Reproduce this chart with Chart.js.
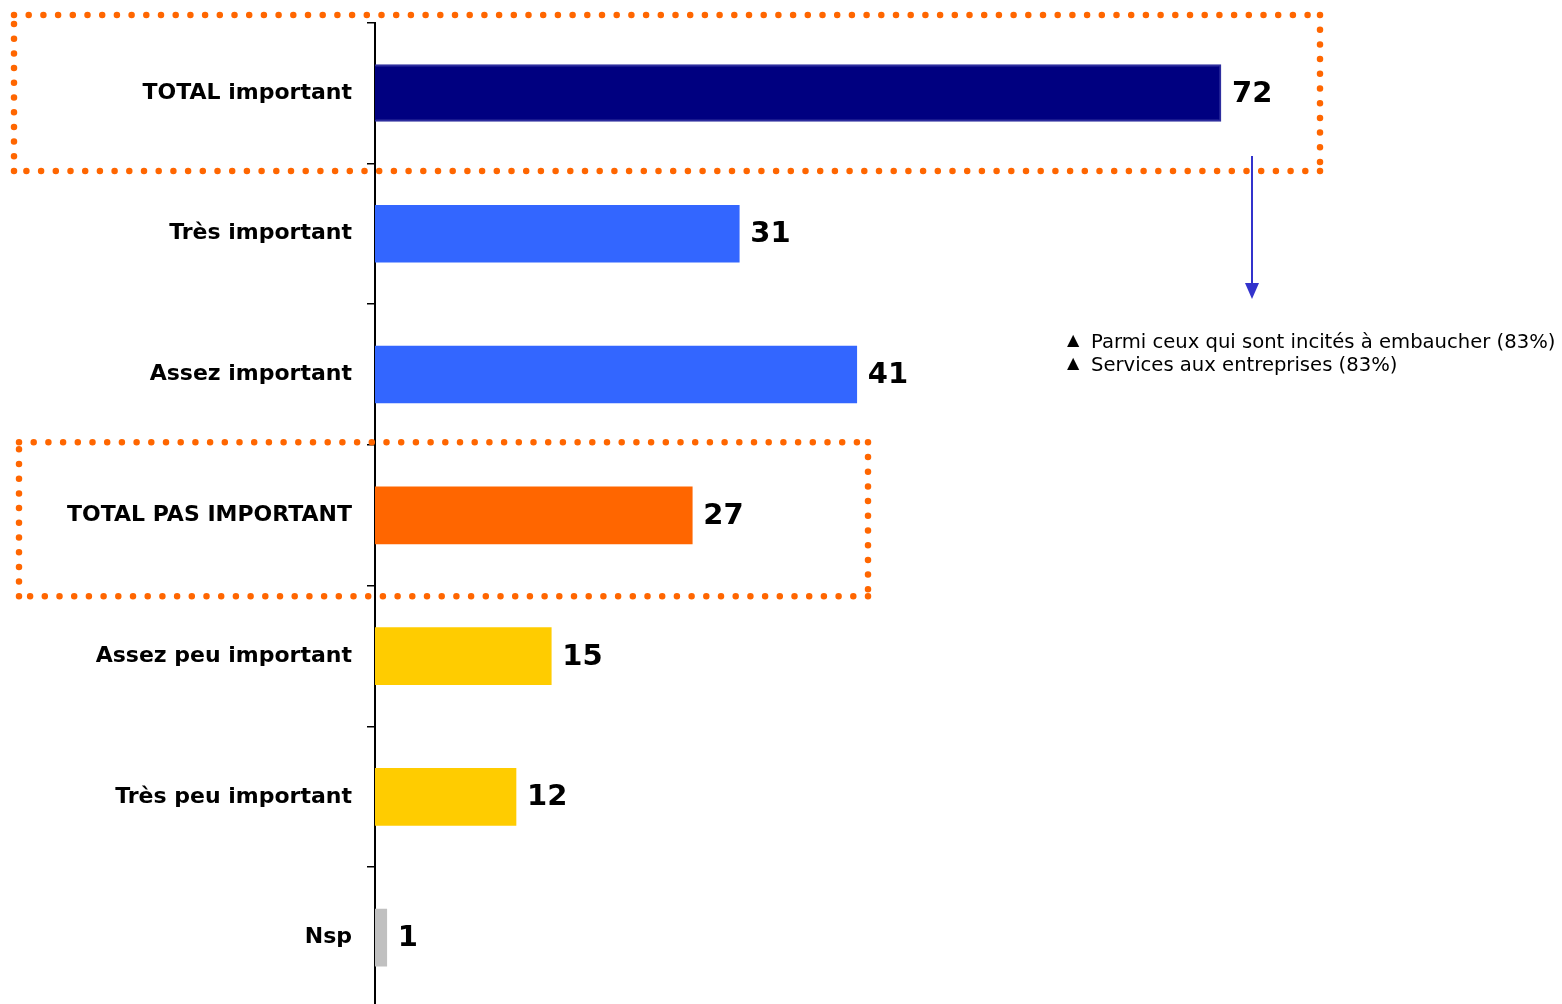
<!DOCTYPE html>
<html>
<head>
<meta charset="utf-8">
<script src="https://cdn.jsdelivr.net/npm/chart.js@4/dist/chart.umd.min.js"></script>
<style>
    html, body { margin: 0; padding: 0; background: #fff; overflow: hidden; }
    #wrap { position: relative; width: 1562px; height: 1008px; }
</style>
</head>
<body>
<div id="wrap"><canvas id="chart"></canvas></div>
<script>
// Data
const categories = [
    'TOTAL important',
    'Très important',
    'Assez important',
    'TOTAL PAS IMPORTANT',
    'Assez peu important',
    'Très peu important',
    'Nsp'
];
const values = [72, 31, 41, 27, 15, 12, 1];
const barColors = ['#000080', '#3366FF', '#3366FF', '#FF6600', '#FFCC00', '#FFCC00', '#C0C0C0'];
const noteLines = [
    'Parmi ceux qui sont incités à embaucher (83%)',
    'Services aux entreprises (83%)'
];

const FONT = '"DejaVu Sans", Verdana, sans-serif';
const ORANGE_DOT = '#FF6600';

// Value labels at the end of each bar
const valueLabels = {
    id: 'valueLabels',
    afterDatasetsDraw(chart) {
        const { ctx } = chart;
        const meta = chart.getDatasetMeta(0);
        ctx.save();
        ctx.font = 'bold 29px ' + FONT;
        ctx.fillStyle = '#000';
        ctx.textAlign = 'left';
        ctx.textBaseline = 'middle';
        meta.data.forEach((bar, i) => {
            ctx.fillText(String(values[i]), bar.x + 11, bar.y + 1);
        });
        ctx.restore();
    }
};

// Dotted frames, arrow and note
const annotations = {
    id: 'annotations',
    afterDraw(chart) {
        const { ctx } = chart;
        const y = chart.scales.y;
        const x = chart.scales.x;

        const dottedBox = (left, top, right, bottom) => {
            ctx.save();
            ctx.strokeStyle = ORANGE_DOT;
            ctx.lineWidth = 6.5;
            ctx.lineCap = 'round';
            ctx.setLineDash([0, 14.7]);
            const sides = [
                [left, top, right, top],
                [right, top, right, bottom],
                [right, bottom, left, bottom],
                [left, bottom, left, top]
            ];
            sides.forEach(s => {
                ctx.beginPath();
                ctx.moveTo(s[0], s[1]);
                ctx.lineTo(s[2], s[3]);
                ctx.stroke();
            });
            ctx.restore();
        };

        const c0 = y.getPixelForValue(0);
        const c3 = y.getPixelForValue(3);
        dottedBox(14, c0 - 78, 1320, c0 + 78);
        dottedBox(19, c3 - 73, 868, c3 + 81);

        // arrow below the first value label
        const ax = x.getPixelForValue(values[0]) + 31;
        ctx.save();
        ctx.strokeStyle = '#3333CC';
        ctx.fillStyle = '#3333CC';
        ctx.lineWidth = 2;
        ctx.beginPath();
        ctx.moveTo(ax, c0 + 63);
        ctx.lineTo(ax, c0 + 192);
        ctx.stroke();
        ctx.beginPath();
        ctx.moveTo(ax - 7, c0 + 190);
        ctx.lineTo(ax + 7, c0 + 190);
        ctx.lineTo(ax, c0 + 206);
        ctx.closePath();
        ctx.fill();
        ctx.restore();

        // note text
        ctx.save();
        ctx.fillStyle = '#000';
        ctx.textBaseline = 'middle';
        noteLines.forEach((line, i) => {
            const ty = 343 + i * 23;
            ctx.font = '16px ' + FONT;
            ctx.fillText('▲', 1067, ty - 2);
            ctx.font = '19.6px ' + FONT;
            ctx.fillText(line, 1091, ty);
        });
        ctx.restore();
    }
};

new Chart(document.getElementById('chart'), {
    type: 'bar',
    data: {
        labels: categories,
        datasets: [{
            data: values,
            backgroundColor: barColors,
            borderColor: ['#2E2E9E', 'transparent', 'transparent', 'transparent', 'transparent', 'transparent', 'transparent'],
            borderWidth: [2, 0, 0, 0, 0, 0, 0],
            borderSkipped: 'left',
            barThickness: 57
        }]
    },
    options: {
        indexAxis: 'y',
        responsive: true,
        maintainAspectRatio: false,
        animation: false,
        layout: {
            padding: { top: 22.6, right: 12, bottom: 0, left: 0 }
        },
        plugins: {
            legend: { display: false },
            tooltip: { enabled: false }
        },
        scales: {
            x: {
                display: false,
                min: 0,
                max: 100
            },
            y: {
                afterFit(scale) {
                    scale.width = 375;
                    scale.paddingTop = 0;
                    scale.paddingBottom = 0;
                },
                border: { color: '#000', width: 2 },
                grid: {
                    offset: true,
                    drawOnChartArea: false,
                    drawTicks: true,
                    tickLength: 8,
                    color: '#000',
                    lineWidth: 1.5
                },
                ticks: {
                    padding: 15,
                    color: '#000',
                    font: { family: FONT, size: 22, weight: 'bold' }
                }
            }
        }
    },
    plugins: [valueLabels, annotations]
});
</script>
</body>
</html>
